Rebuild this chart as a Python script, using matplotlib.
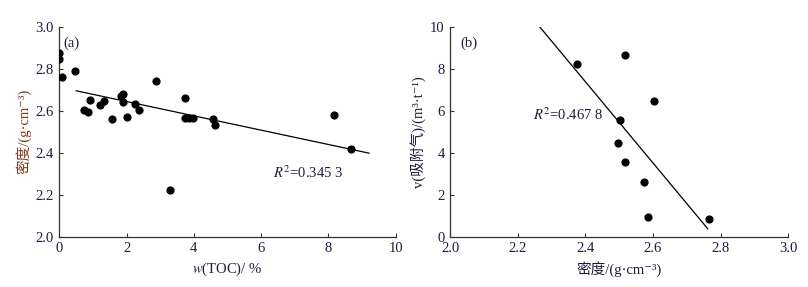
import matplotlib
matplotlib.use("Agg")
import matplotlib.pyplot as plt

plt.rcParams['font.family'] = ['Liberation Serif', 'Noto Sans CJK SC', 'DejaVu Sans']
plt.rcParams['mathtext.fontset'] = 'stix'

# Panel (a): TOC vs density
toc = [0.00, 0.00, 0.09, 0.48, 0.73, 0.85, 0.92, 1.21, 1.34, 1.57, 1.82, 1.90,
       1.89, 2.00, 2.25, 2.38, 2.88, 3.30, 3.73, 3.73, 3.85, 3.97, 4.56, 4.64,
       8.18, 8.66]
density_a = [2.876, 2.844, 2.760, 2.790, 2.605, 2.595, 2.649, 2.625, 2.644, 2.562,
             2.668, 2.679, 2.640, 2.570, 2.633, 2.605, 2.740, 2.222, 2.660, 2.565,
             2.563, 2.565, 2.559, 2.533, 2.578, 2.417]
fit_a_x = [0.50, 9.21]
fit_a_y = [2.695, 2.398]

# Panel (b): density vs adsorbed gas
density_b = [2.374, 2.516, 2.603, 2.502, 2.498, 2.517, 2.573, 2.584, 2.767]
gas = [8.24, 8.63, 6.44, 5.54, 4.44, 3.54, 2.62, 0.94, 0.86]
fit_b_x = [2.258, 2.762]
fit_b_y = [10.13, 0.38]

a_xticks = [0, 2, 4, 6, 8, 10]
a_yticks = [2.0, 2.2, 2.4, 2.6, 2.8, 3.0]
b_xticks = [2.0, 2.2, 2.4, 2.6, 2.8, 3.0]
b_yticks = [0, 2, 4, 6, 8, 10]

fam = ['Liberation Serif', 'Noto Sans CJK SC', 'DejaVu Sans']
tick_color = '#1c1c3c'
fig = plt.figure(figsize=(8.08, 2.87), dpi=100)
ax1 = fig.add_axes([0.0734, 0.175, 0.4163, 0.732])
ax2 = fig.add_axes([0.557, 0.175, 0.4186, 0.732])

for ax in (ax1, ax2):
    ax.spines['top'].set_visible(False)
    ax.spines['right'].set_visible(False)
    for s in ('left', 'bottom'):
        ax.spines[s].set_linewidth(0.9)
        ax.spines[s].set_color('#333333')
    ax.tick_params(direction='in', length=3, width=0.8, labelsize=10.5,
                   colors='#333333', labelcolor=tick_color, pad=4)

ax1.scatter(toc, density_a, s=24, color='black', zorder=3)
ax1.plot(fit_a_x, fit_a_y, color='black', lw=0.9)
ax1.set_xlim(0, 10)
ax1.set_ylim(2.0, 3.0)
ax1.set_xticks(a_xticks)
ax1.set_xticklabels([str(v) for v in a_xticks])
ax1.set_yticks(a_yticks)
ax1.set_yticklabels([f'{v:.1f}' for v in a_yticks])
ax1.set_xlabel(r'$w$' + '(TOC)/ %', fontsize=10.5, color=tick_color, labelpad=4)
ax1.set_ylabel('密度/(g·cm⁻³)', fontsize=10.5, color='#7a3a1a', labelpad=3,
               family=fam)
ax1.text(0.13, 2.922, '(a)', fontsize=10.5, color=tick_color, va='center')
ax1.text(6.35, 2.305, r'$R^2$' + '=0.345 3', fontsize=10.5, color=tick_color, va='center')

ax2.scatter(density_b, gas, s=24, color='black', zorder=3)
ax2.plot(fit_b_x, fit_b_y, color='black', lw=0.9)
ax2.set_xlim(2.0, 3.0)
ax2.set_ylim(0, 10)
ax2.set_xticks(b_xticks)
ax2.set_xticklabels([f'{v:.1f}' for v in b_xticks])
ax2.set_yticks(b_yticks)
ax2.set_yticklabels([str(v) for v in b_yticks])
ax2.set_xlabel('密度/(g·cm⁻³)', fontsize=10.5, color=tick_color, labelpad=4,
               family=fam)
ax2.set_ylabel('v(吸附气)/(m³·t⁻¹)', fontsize=10.5, color=tick_color, labelpad=3,
               family=fam)
ax2.text(2.03, 9.22, '(b)', fontsize=10.5, color=tick_color, va='center')
ax2.text(2.245, 5.8, r'$R^2$' + '=0.467 8', fontsize=10.5, color=tick_color, va='center')

fig.savefig('out.png', dpi=100, facecolor='white')
